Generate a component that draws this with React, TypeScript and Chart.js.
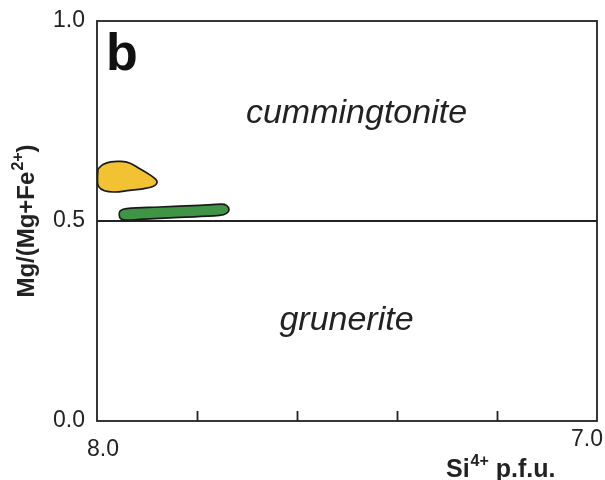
import React, { useEffect, useRef } from 'react';
import { Chart, registerables } from 'chart.js';

Chart.register(...registerables);

// ---- data ----
const xMin = 7.0;
const xMax = 8.0;
const yMin = 0;
const yMax = 1;
const yTickValues = [0, 0.5, 1.0];
const yTickLabels = ['0.0', '0.5', '1.0'];
const xTickValues = [8.0, 7.0];
const xTickLabels = ['8.0', '7.0'];
const xInnerTicks = [7.8, 7.6, 7.4, 7.2];

const boundaryX = [8.0, 7.0];
const boundaryY = [0.5, 0.5];

const yellowX = [7.998, 7.988, 7.972, 7.952, 7.935, 7.915, 7.895, 7.883, 7.880, 7.887, 7.908, 7.935, 7.965, 7.985, 7.997, 7.999];
const yellowY = [0.630, 0.641, 0.648, 0.649, 0.645, 0.631, 0.616, 0.6045, 0.5958, 0.587, 0.5805, 0.5765, 0.5725, 0.5755, 0.5865, 0.6068];

const greenX = [7.956, 7.953, 7.941, 7.875, 7.795, 7.751, 7.741, 7.736, 7.741, 7.755, 7.835, 7.915, 7.943, 7.953];
const greenY = [0.5175, 0.526, 0.531, 0.535, 0.539, 0.542, 0.539, 0.529, 0.519, 0.514, 0.509, 0.504, 0.5025, 0.506];

const regionNames = ['cummingtonite', 'grunerite'];
const regionX = [7.481, 7.501];
const regionY = [0.745, 0.2275];
const panelLabel = 'b';

const FONT = '"Liberation Sans", Arial, Helvetica, sans-serif';
const INK = '#222';

function closed(xs: number[], ys: number[]) {
  const pts = xs.map((x, i) => ({ x, y: ys[i] }));
  pts.push({ ...pts[0] });
  return pts;
}

const overlayPlugin = {
  id: 'overlay',
  afterDraw(chart: any) {
    const { ctx, chartArea: a, scales } = chart;
    const xs = scales.x;
    const ys = scales.y;
    ctx.save();
    // frame
    ctx.strokeStyle = INK;
    ctx.lineWidth = 1.8;
    ctx.strokeRect(a.left, a.top, a.right - a.left, a.bottom - a.top);
    // inner ticks
    ctx.beginPath();
    xInnerTicks.forEach((v) => {
      const px = Math.round(xs.getPixelForValue(v)) + 0.5;
      ctx.moveTo(px, a.bottom);
      ctx.lineTo(px, a.bottom - 10);
    });
    ctx.stroke();

    // x tick labels
    ctx.fillStyle = INK;
    ctx.font = `23px ${FONT}`;
    ctx.textBaseline = 'alphabetic';
    ctx.textAlign = 'center';
    const xOffsets = [6, -10];
    const xBase = [456, 446];
    xTickValues.forEach((v, i) => {
      ctx.fillText(xTickLabels[i], xs.getPixelForValue(v) + xOffsets[i], xBase[i]);
    });

    // x title: Si4+ p.f.u.
    {
      const main = `bold 25px ${FONT}`;
      const sup = `bold 16px ${FONT}`;
      let x = 446;
      const base = 477;
      ctx.textAlign = 'left';
      ctx.font = main;
      ctx.fillText('Si', x, base);
      x += ctx.measureText('Si').width + 1;
      ctx.font = sup;
      ctx.fillText('4+', x, base - 11);
      x += ctx.measureText('4+').width;
      ctx.font = main;
      ctx.fillText(' p.f.u.', x, base);
    }

    // y title: Mg/(Mg+Fe2+)
    {
      const main = `bold 24px ${FONT}`;
      const sup = `bold 16px ${FONT}`;
      ctx.font = main;
      const w1 = ctx.measureText('Mg/(Mg+Fe').width;
      const w3 = ctx.measureText(')').width;
      ctx.font = sup;
      const w2 = ctx.measureText('2+').width;
      const total = w1 + w2 + w3 + 1;
      ctx.save();
      ctx.translate(34, ys.getPixelForValue(0.5));
      ctx.rotate(-Math.PI / 2);
      ctx.textAlign = 'left';
      let x = -total / 2;
      ctx.font = main;
      ctx.fillText('Mg/(Mg+Fe', x, 0);
      x += w1 + 1;
      ctx.font = sup;
      ctx.fillText('2+', x, -11);
      x += w2;
      ctx.font = main;
      ctx.fillText(')', x, 0);
      ctx.restore();
    }

    // region names
    ctx.font = `italic 34px ${FONT}`;
    ctx.textAlign = 'center';
    regionNames.forEach((name, i) => {
      ctx.fillText(name, xs.getPixelForValue(regionX[i]), ys.getPixelForValue(regionY[i]));
    });

    // panel label
    ctx.font = `bold 52px ${FONT}`;
    ctx.textAlign = 'left';
    ctx.fillStyle = '#111';
    ctx.fillText(panelLabel, a.left + 9, 70);
    ctx.restore();
  },
};

export default function App() {
  const ref = useRef<HTMLCanvasElement | null>(null);
  useEffect(() => {
    if (!ref.current) return;
    const chart = new Chart(ref.current, {
      type: 'scatter',
      data: {
        datasets: [
          {
            data: closed(yellowX, yellowY),
            showLine: true,
            tension: 0.4,
            fill: 'shape',
            backgroundColor: '#F2C232',
            borderColor: '#1a1a1a',
            borderWidth: 1.7,
            pointRadius: 0,
          } as any,
          {
            data: closed(greenX, greenY),
            showLine: true,
            tension: 0.4,
            fill: 'shape',
            backgroundColor: '#3F9445',
            borderColor: '#1a1a1a',
            borderWidth: 1.7,
            pointRadius: 0,
          } as any,
          {
            data: boundaryX.map((x, i) => ({ x, y: boundaryY[i] })),
            showLine: true,
            borderColor: INK,
            borderWidth: 1.8,
            pointRadius: 0,
            fill: false,
          } as any,
        ],
      },
      options: {
        responsive: false,
        animation: false,
        layout: { padding: { top: 21, right: 8, left: 0, bottom: 0 } },
        plugins: {
          legend: { display: false },
          tooltip: { enabled: false },
          title: { display: false },
        },
        scales: {
          x: {
            type: 'linear',
            min: xMin,
            max: xMax,
            reverse: true,
            grid: { display: false },
            border: { display: false },
            ticks: { display: false },
            afterFit: (s: any) => { s.height = 59; },
          },
          y: {
            type: 'linear',
            min: yMin,
            max: yMax,
            grid: { display: false },
            border: { display: false },
            afterBuildTicks: (s: any) => { s.ticks = yTickValues.map((v) => ({ value: v })); },
            ticks: {
              padding: 4,
              color: INK,
              font: { family: FONT, size: 23 },
              callback: (v: any) => {
                const i = yTickValues.indexOf(Number(v));
                return i >= 0 ? yTickLabels[i] : '';
              },
            },
            afterFit: (s: any) => { s.width = 97; },
          },
        },
      } as any,
      plugins: [overlayPlugin],
    });
    return () => chart.destroy();
  }, []);
  return (
    <div style={{ position: 'absolute', left: 0, top: 0, width: 605, height: 480, background: '#fff' }}>
      <canvas ref={ref} width={605} height={480} style={{ width: 605, height: 480, display: 'block' }} />
    </div>
  );
}
